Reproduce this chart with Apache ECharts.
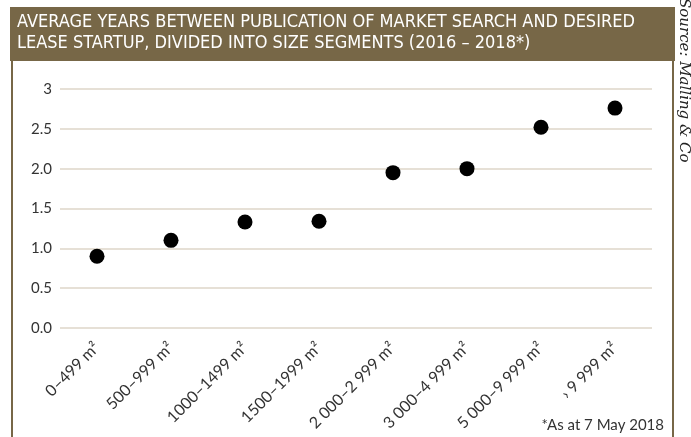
<!DOCTYPE html>
<html>
<head>
<meta charset="utf-8">
<script src="https://cdn.jsdelivr.net/npm/echarts@6/dist/echarts.min.js"></script>
<style>
  html, body { margin: 0; padding: 0; background: #fff; }
  #chart { width: 691px; height: 437px; }
</style>
</head>
<body>
<div id="chart"></div>
<script>
// 尺寸分段
var categories = ['0–499 m²', '500–999 m²', '1000–1499 m²', '1500–1999 m²',
  '2 000–2 999 m²', '3 000–4 999 m²', '5 000–9 999 m²', '› 9 999 m²'];
// 平均年数
var avgYears = [0.90, 1.10, 1.33, 1.34, 1.95, 2.00, 2.52, 2.76];
// y轴刻度文字
var yTicks = [0, 0.5, 1, 1.5, 2, 2.5, 3];
var yTickLabels = ['0.0', '0.5', '1.0', '1.5', '2.0', '2.5', '3'];

var titleLines = 'AVERAGE YEARS BETWEEN PUBLICATION OF MARKET SEARCH AND DESIRED\nLEASE STARTUP, DIVIDED INTO SIZE SEGMENTS (2016 – 2018*)';
var brown = '#776747';
var labelFont = 'Lato';

var myChart = echarts.init(document.getElementById('chart'), null, { renderer: 'canvas' });

var option = {
  animation: false,
  backgroundColor: '#fff',
  grid: { left: 60, right: 39, top: 89, bottom: 109, containLabel: false },
  xAxis: {
    type: 'category',
    data: categories,
    axisLine: { show: false },
    axisTick: { show: false },
    axisLabel: {
      interval: 0,
      rotate: 45,
      margin: 17,
      color: '#333',
      fontFamily: labelFont,
      fontSize: 16
    }
  },
  yAxis: {
    type: 'value',
    min: 0,
    max: 3,
    interval: 0.5,
    axisLine: { show: false },
    axisTick: { show: false },
    splitLine: { lineStyle: { color: '#e6e0d6', width: 2 } },
    axisLabel: {
      margin: 8,
      color: '#333',
      fontFamily: labelFont,
      fontSize: 15,
      formatter: function (v) {
        var i = yTicks.indexOf(v);
        return i >= 0 ? yTickLabels[i] : '';
      }
    }
  },
  series: [{
    type: 'scatter',
    data: avgYears,
    symbol: 'circle',
    symbolSize: 15,
    itemStyle: { color: '#000', opacity: 1 }
  }],
  graphic: [
    // 外框
    {
      type: 'rect', z: 0,
      shape: { x: 12, y: 58, width: 661, height: 400 },
      style: { fill: 'none', stroke: brown, lineWidth: 2 }
    },
    // 标题背景
    {
      type: 'rect', z: 1,
      shape: { x: 10, y: 7, width: 665, height: 54 },
      style: { fill: brown }
    },
    {
      type: 'text', z: 2,
      left: 17, top: 12,
      style: {
        text: titleLines,
        fill: '#fff',
        font: '18px "DejaVu Sans Condensed", "Liberation Sans Narrow", sans-serif',
        lineHeight: 21
      }
    },
    // 数据来源
    {
      type: 'text', z: 2,
      x: 691, y: -2,
      rotation: -Math.PI / 2,
      style: {
        text: 'Source: Malling & Co',
        fill: '#222',
        font: 'italic 15px "DejaVu Serif", serif',
        textAlign: 'left',
        textVerticalAlign: 'top'
      }
    },
    // 脚注
    {
      type: 'text', z: 2,
      right: 27, top: 418,
      style: {
        text: '*As at 7 May 2018',
        fill: '#333',
        font: '15px Lato'
      }
    }
  ]
};

myChart.setOption(option);
window.onresize = myChart.resize;
</script>
</body>
</html>
